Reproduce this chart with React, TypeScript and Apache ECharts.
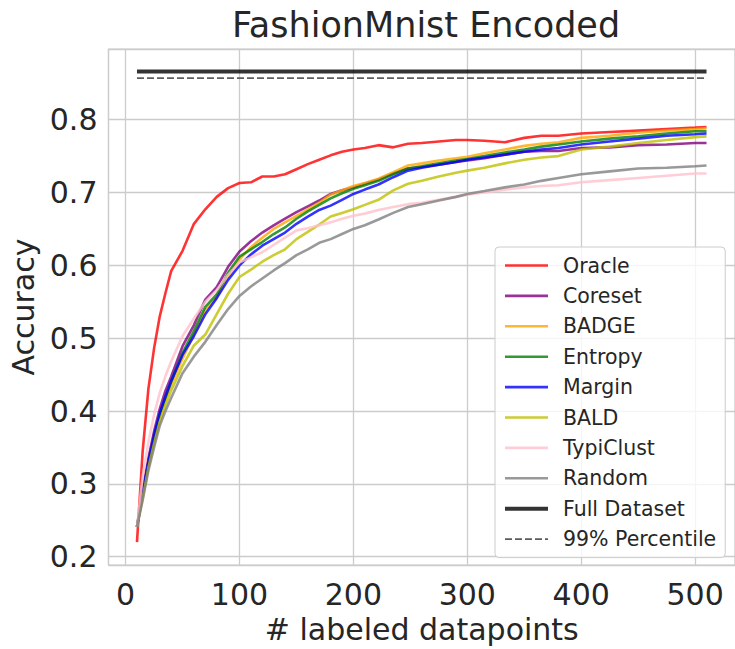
import React, { useEffect, useRef } from "react";
import * as echarts from "echarts";

// Number of labeled datapoints at which accuracy was recorded
const labeled = [10, 15, 20, 25, 30, 35, 40, 50, 60, 70, 80, 90, 100, 110, 120, 130, 140, 150, 160, 170, 180, 190, 200, 210, 222, 235, 248, 260, 275, 290, 300, 315, 333, 350, 365, 380, 400, 425, 450, 475, 500, 510];

const oracle = [0.220, 0.345, 0.430, 0.486, 0.530, 0.562, 0.592, 0.620, 0.657, 0.677, 0.694, 0.706, 0.713, 0.714, 0.722, 0.722, 0.725, 0.732, 0.739, 0.745, 0.751, 0.756, 0.759, 0.761, 0.765, 0.762, 0.767, 0.768, 0.770, 0.772, 0.772, 0.771, 0.769, 0.775, 0.778, 0.778, 0.781, 0.783, 0.785, 0.787, 0.789, 0.790];
const coreset = [0.241, 0.292, 0.335, 0.372, 0.403, 0.428, 0.447, 0.489, 0.518, 0.553, 0.570, 0.598, 0.619, 0.633, 0.645, 0.655, 0.664, 0.673, 0.681, 0.689, 0.698, 0.703, 0.707, 0.712, 0.718, 0.726, 0.733, 0.735, 0.738, 0.742, 0.744, 0.747, 0.752, 0.756, 0.757, 0.757, 0.761, 0.762, 0.765, 0.766, 0.768, 0.768];
const badge = [0.241, 0.285, 0.325, 0.360, 0.392, 0.415, 0.436, 0.472, 0.505, 0.538, 0.556, 0.585, 0.608, 0.625, 0.638, 0.650, 0.659, 0.668, 0.677, 0.686, 0.697, 0.703, 0.709, 0.713, 0.719, 0.728, 0.737, 0.740, 0.744, 0.747, 0.749, 0.754, 0.759, 0.764, 0.767, 0.769, 0.775, 0.778, 0.782, 0.785, 0.787, 0.788];
const entropy = [0.241, 0.286, 0.328, 0.363, 0.395, 0.418, 0.440, 0.480, 0.510, 0.543, 0.560, 0.590, 0.612, 0.622, 0.632, 0.643, 0.652, 0.664, 0.674, 0.683, 0.692, 0.699, 0.705, 0.710, 0.716, 0.725, 0.733, 0.736, 0.740, 0.744, 0.746, 0.750, 0.755, 0.759, 0.763, 0.766, 0.770, 0.774, 0.777, 0.781, 0.784, 0.784];
const margin = [0.241, 0.287, 0.330, 0.367, 0.397, 0.420, 0.441, 0.477, 0.503, 0.533, 0.555, 0.580, 0.600, 0.615, 0.627, 0.636, 0.645, 0.657, 0.667, 0.676, 0.682, 0.690, 0.698, 0.704, 0.711, 0.721, 0.730, 0.734, 0.738, 0.742, 0.745, 0.748, 0.752, 0.756, 0.759, 0.761, 0.766, 0.770, 0.774, 0.778, 0.780, 0.781];
const bald = [0.241, 0.280, 0.322, 0.355, 0.385, 0.408, 0.428, 0.462, 0.490, 0.505, 0.533, 0.561, 0.584, 0.594, 0.605, 0.614, 0.622, 0.636, 0.646, 0.656, 0.667, 0.672, 0.677, 0.683, 0.690, 0.703, 0.712, 0.716, 0.722, 0.727, 0.730, 0.734, 0.740, 0.745, 0.748, 0.750, 0.759, 0.763, 0.768, 0.772, 0.776, 0.777];
const typiclust = [0.241, 0.310, 0.357, 0.395, 0.425, 0.448, 0.468, 0.503, 0.527, 0.550, 0.566, 0.587, 0.604, 0.611, 0.618, 0.628, 0.638, 0.648, 0.651, 0.655, 0.659, 0.664, 0.668, 0.671, 0.676, 0.680, 0.684, 0.686, 0.690, 0.694, 0.697, 0.700, 0.704, 0.707, 0.709, 0.710, 0.714, 0.717, 0.720, 0.723, 0.726, 0.726];
const random = [0.241, 0.278, 0.318, 0.350, 0.380, 0.400, 0.418, 0.452, 0.475, 0.495, 0.518, 0.540, 0.558, 0.571, 0.582, 0.593, 0.603, 0.614, 0.622, 0.631, 0.636, 0.643, 0.650, 0.655, 0.663, 0.672, 0.680, 0.684, 0.689, 0.694, 0.698, 0.702, 0.707, 0.711, 0.716, 0.720, 0.725, 0.729, 0.733, 0.734, 0.736, 0.737];

// Reference levels: accuracy on the full dataset and its 99% mark
const fullDataset = 0.866;
const percentile99 = 0.857;
const referenceSpan = [10, 510];

const methodNames = ["Oracle", "Coreset", "BADGE", "Entropy", "Margin", "BALD", "TypiClust", "Random"];
const methodValues = [oracle, coreset, badge, entropy, margin, bald, typiclust, random];
const methodColors = [
  "rgba(255,0,0,0.8)",
  "rgba(128,0,128,0.8)",
  "rgba(255,165,0,0.8)",
  "rgba(0,128,0,0.8)",
  "rgba(0,0,255,0.8)",
  "rgba(191,191,0,0.8)",
  "rgba(255,192,203,0.8)",
  "rgba(128,128,128,0.8)",
];

const FONT = "DejaVu Sans, Verdana, sans-serif";
const INK = "#262626";
const GRID = "#cccccc";

function buildOption() {
  const methodSeries = methodNames.map((name, i) => ({
    name,
    type: "line",
    data: labeled.map((x, j) => [x, methodValues[i][j]]),
    symbol: "none",
    showSymbol: false,
    silent: true,
    lineStyle: { width: 2.6, color: methodColors[i] },
    itemStyle: { color: methodColors[i] },
    emphasis: { disabled: true },
    z: 2 + i,
  }));

  const fullSeries = {
    name: "Full Dataset",
    type: "line",
    data: referenceSpan.map((x) => [x, fullDataset]),
    symbol: "none",
    showSymbol: false,
    silent: true,
    lineStyle: { width: 4, color: "rgba(0,0,0,0.8)" },
    itemStyle: { color: "rgba(0,0,0,0.8)" },
    emphasis: { disabled: true },
    z: 12,
  };

  const pctSeries = {
    name: "99% Percentile",
    type: "line",
    data: referenceSpan.map((x) => [x, percentile99]),
    symbol: "none",
    showSymbol: false,
    silent: true,
    lineStyle: { width: 1.8, color: "#5c5c5c", type: [7, 3] },
    itemStyle: { color: "#5c5c5c" },
    emphasis: { disabled: true },
    z: 13,
  };

  // Legend handles are plain line segments: the marker dot is hidden
  const hiddenMarker = { opacity: 0, borderWidth: 0 };
  const legendData = [
    ...methodNames.map((name, i) => ({
      name,
      itemStyle: hiddenMarker,
      lineStyle: { width: 2.6, color: methodColors[i], type: "solid" },
    })),
    { name: "Full Dataset", itemStyle: hiddenMarker, lineStyle: { width: 4, color: "rgba(0,0,0,0.8)", type: "solid" } },
    { name: "99% Percentile", itemStyle: hiddenMarker, lineStyle: { width: 1.8, color: "#5c5c5c", type: [7, 3] } },
  ];

  return {
    animation: false,
    backgroundColor: "#ffffff",
    textStyle: { fontFamily: FONT, color: INK },
    title: {
      text: "FashionMnist Encoded",
      left: 421,
      top: 2,
      textAlign: "center",
      textStyle: { fontFamily: FONT, fontSize: 35, fontWeight: "normal", color: INK },
    },
    grid: {
      left: 108.5,
      top: 49,
      width: 628,
      height: 519,
      show: true,
      borderColor: GRID,
      borderWidth: 1.25,
      backgroundColor: "transparent",
      containLabel: false,
    },
    xAxis: {
      type: "value",
      min: -15,
      max: 535,
      splitNumber: 5,
      name: "# labeled datapoints",
      nameLocation: "middle",
      nameGap: 42,
      nameTextStyle: { fontFamily: FONT, fontSize: 30, color: INK },
      axisLine: { show: false },
      axisTick: { show: false },
      axisLabel: {
        margin: 14,
        fontFamily: FONT,
        fontSize: 30,
        color: INK,
        showMinLabel: false,
        showMaxLabel: false,
      },
      splitLine: { show: true, lineStyle: { color: GRID, width: 1.3 } },
    },
    yAxis: {
      type: "value",
      min: 0.1885,
      max: 0.897,
      splitNumber: 7,
      name: "Accuracy",
      nameLocation: "middle",
      nameRotate: 90,
      nameGap: 58,
      nameTextStyle: { fontFamily: FONT, fontSize: 30, color: INK },
      axisLine: { show: false },
      axisTick: { show: false },
      axisLabel: {
        margin: 11,
        fontFamily: FONT,
        fontSize: 30,
        color: INK,
        showMinLabel: false,
        showMaxLabel: false,
        formatter: (v: number) => v.toFixed(1),
      },
      splitLine: { show: true, lineStyle: { color: GRID, width: 1.3 } },
    },
    legend: {
      orient: "vertical",
      left: 495,
      top: 247,
      padding: [8, 9, 8, 8],
      itemWidth: 43,
      itemHeight: 20,
      itemGap: 9.4,
      selectedMode: false,
      backgroundColor: "rgba(255,255,255,0.8)",
      borderColor: "#cccccc",
      borderWidth: 1,
      borderRadius: 4,
      textStyle: {
        fontFamily: FONT,
        fontSize: 20.5,
        lineHeight: 20,
        color: INK,
        padding: [0, 0, 0, 10],
      },
      data: legendData,
    },
    series: [...methodSeries, fullSeries, pctSeries],
  };
}

export default function App() {
  const ref = useRef<HTMLDivElement | null>(null);

  useEffect(() => {
    if (!ref.current) return;
    const chart = echarts.init(ref.current, undefined, { renderer: "svg" });
    chart.setOption(buildOption() as any);
    return () => chart.dispose();
  }, []);

  return (
    <div
      ref={ref}
      style={{ position: "fixed", left: 0, top: 0, width: 735, height: 649, background: "#fff" }}
    />
  );
}
